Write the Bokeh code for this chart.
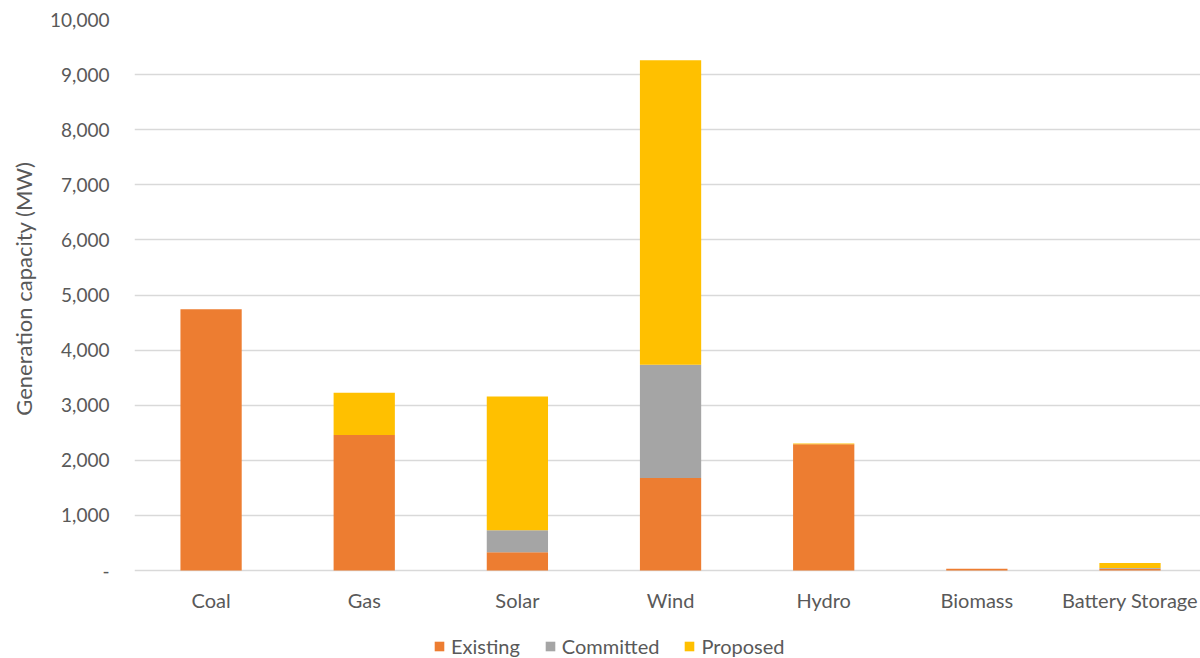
from bokeh.plotting import figure
from bokeh.models import (ColumnDataSource, Range1d, FixedTicker, NumeralTickFormatter,
                          Legend, LegendItem, Title)
from bokeh.core.properties import value
from bokeh.embed import file_html
from bokeh.resources import INLINE

# ---- data ----
categories = ["Coal", "Gas", "Solar", "Wind", "Hydro", "Biomass", "Battery Storage"]
existing = [4740, 2460, 330, 1680, 2290, 30, 30]
committed = [0, 0, 400, 2055, 0, 0, 15]
proposed = [0, 765, 2430, 5525, 15, 0, 90]
series_names = ["Existing", "Committed", "Proposed"]
series_colors = ["#ED7D31", "#A5A5A5", "#FFC000"]
y_ticks = [0, 1000, 2000, 3000, 4000, 5000, 6000, 7000, 8000, 9000, 10000]
y_title = "Generation capacity (MW)"

FONT = "Lato"
TXT = "#595959"

# ---- layout constants (pixels) ----
W, H = 1200, 658
LEFT, TOP, ZERO_Y = 133, 19, 570      # frame left, frame top, pixel row of y=0
CAT_W = 153.3                          # pixel width of one category slot

x = list(range(len(categories)))
source = ColumnDataSource(dict(x=x, existing=existing, committed=committed,
                               proposed=proposed, label=categories))

y_max = y_ticks[-1]
px_per_unit = (ZERO_Y - TOP) / y_max
y_start = -(H - ZERO_Y) / px_per_unit
x_end = -0.5 + (W - LEFT) / CAT_W

p = figure(width=W, height=H, output_backend="svg", toolbar_location=None,
           x_range=Range1d(-0.5, x_end), y_range=Range1d(y_start, y_max),
           min_border_left=LEFT, min_border_top=TOP, min_border_right=0, min_border_bottom=0)
p.outline_line_color = None
p.background_fill_color = "white"
p.border_fill_color = "white"

renderers = p.vbar_stack(["existing", "committed", "proposed"], x="x", width=0.4,
                         fill_color=series_colors, line_color=None, source=source)

# category labels under the bars
p.text(x="x", y=0, text="label", source=source, text_align="center",
       text_baseline="middle", y_offset=29, text_font=value(FONT),
       text_font_size="20px", text_color=TXT)

# grid
p.xgrid.grid_line_color = None
p.ygrid.grid_line_color = "#D9D9D9"
p.ygrid.grid_line_width = 1.5
p.ygrid.ticker = FixedTicker(ticks=y_ticks)

# x axis hidden (category labels drawn above)
p.xaxis.visible = False

# y axis
p.yaxis.ticker = FixedTicker(ticks=y_ticks)
p.yaxis.formatter = NumeralTickFormatter(format="0,0")
p.yaxis.major_label_overrides = {0: "-"}
p.yaxis.axis_line_color = None
p.yaxis.major_tick_line_color = None
p.yaxis.minor_tick_line_color = None
p.yaxis.major_tick_out = 0
p.yaxis.major_label_standoff = 25
p.yaxis.major_label_text_font = FONT
p.yaxis.major_label_text_font_size = "19px"
p.yaxis.major_label_text_color = TXT

# y axis title, centred on the 0..10,000 span of the plot
p.add_layout(Title(text=y_title, align="right", offset=142, standoff=18,
                   vertical_align="top",
                   text_font=FONT, text_font_size="22px", text_font_style="normal",
                   text_color=TXT), "left")

legend = Legend(items=[LegendItem(label=n, renderers=[r]) for n, r in zip(series_names, renderers)],
                orientation="horizontal", location=(299, 0), padding=0, margin=0,
                spacing=24, label_standoff=6, glyph_width=12, glyph_height=12,
                border_line_color=None, background_fill_alpha=0,
                label_text_font=FONT, label_text_font_size="20px", label_text_color=TXT)
p.add_layout(legend)

open("out.html", "w").write(file_html(p, INLINE))
